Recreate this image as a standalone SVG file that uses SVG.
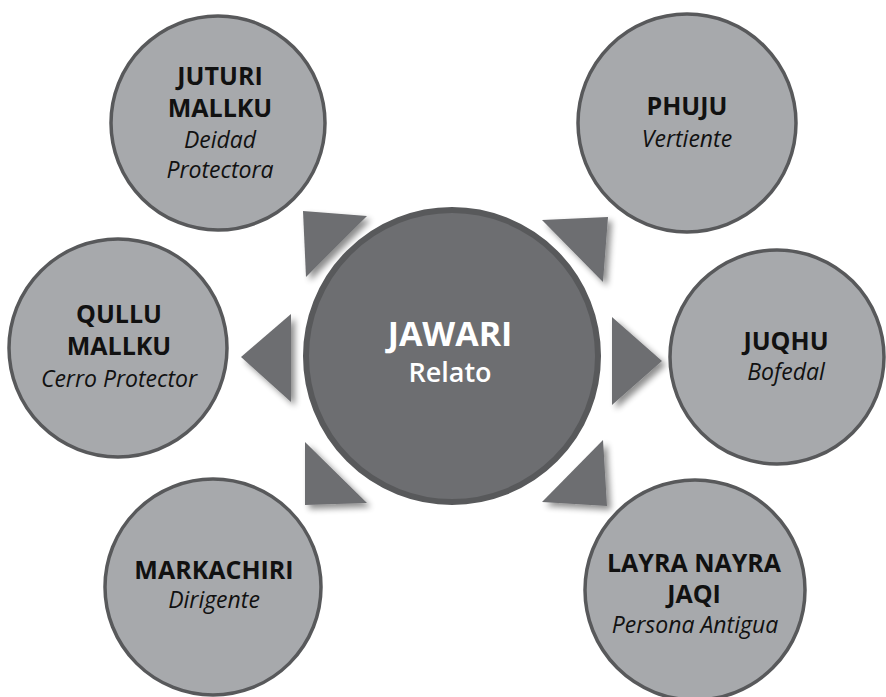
<svg xmlns="http://www.w3.org/2000/svg" width="886" height="697" viewBox="0 0 886 697">
  <style>
    .node { fill: #a7a9ac; stroke: #58595b; stroke-width: 3.5; }
    .hub { fill: #6d6e71; stroke: #58595b; stroke-width: 6; }
    .arrow { fill: #6d6e71; filter: url(#shadow); }
    .t { font-family: "Open Sans", "Noto Sans", sans-serif; text-anchor: middle; fill: #111111; }
    .b { font-weight: 700; font-size: 25px; }
    .i { font-style: italic; font-size: 23px; }
    .hubt { font-family: "Open Sans", "Noto Sans", sans-serif; text-anchor: middle; fill: #ffffff; }
  </style>
  <defs>
    <filter id="shadow" x="-30%" y="-30%" width="170%" height="170%">
      <feGaussianBlur in="SourceAlpha" stdDeviation="3"/>
      <feOffset dx="4" dy="4" result="o"/>
      <feComponentTransfer><feFuncA type="linear" slope="0.45"/></feComponentTransfer>
      <feMerge><feMergeNode/><feMergeNode in="SourceGraphic"/></feMerge>
    </filter>
  </defs>
  <rect width="886" height="697" fill="#ffffff"/>

  <g id="connectors">
    <polygon class="arrow" points="303,211 367,216 306,277"/>
    <polygon class="arrow" points="542,220 608,217 603,282"/>
    <polygon class="arrow" points="241,357 291,314 291,402"/>
    <polygon class="arrow" points="612,317 612,405 662,361"/>
    <polygon class="arrow" points="305,442 305,505 367,503"/>
    <polygon class="arrow" points="603,440 607,506 542,502"/>
  </g>

  <g id="jawari">
    <circle class="hub" cx="452" cy="356" r="146"/>
    <text class="hubt" x="450" y="346" font-size="34" font-weight="700">JAWARI</text>
    <text class="hubt" x="450" y="382" font-size="27" font-weight="600">Relato</text>
  </g>

  <g id="juturi">
    <circle class="node" cx="218" cy="123" r="107"/>
    <text class="t b" x="220" y="85">JUTURI</text>
    <text class="t b" x="220" y="117">MALLKU</text>
    <text class="t i" x="220" y="148">Deidad</text>
    <text class="t i" x="220" y="178">Protectora</text>
  </g>

  <g id="phuju">
    <circle class="node" cx="687" cy="123" r="109"/>
    <text class="t b" x="687" y="115">PHUJU</text>
    <text class="t i" x="687" y="147">Vertiente</text>
  </g>

  <g id="qullu">
    <circle class="node" cx="118" cy="348" r="109"/>
    <text class="t b" x="119" y="323">QULLU</text>
    <text class="t b" x="119" y="355">MALLKU</text>
    <text class="t i" x="119" y="387">Cerro Protector</text>
  </g>

  <g id="juqhu">
    <circle class="node" cx="777" cy="357" r="107"/>
    <text class="t b" x="786" y="350">JUQHU</text>
    <text class="t i" x="786" y="380">Bofedal</text>
  </g>

  <g id="markachiri">
    <circle class="node" cx="213" cy="587" r="108"/>
    <text class="t b" x="214" y="579">MARKACHIRI</text>
    <text class="t i" x="214" y="608">Dirigente</text>
  </g>

  <g id="layra">
    <circle class="node" cx="695" cy="590" r="110"/>
    <text class="t b" x="694" y="572">LAYRA NAYRA</text>
    <text class="t b" x="694" y="603">JAQI</text>
    <text class="t i" x="695" y="633">Persona Antigua</text>
  </g>
</svg>
